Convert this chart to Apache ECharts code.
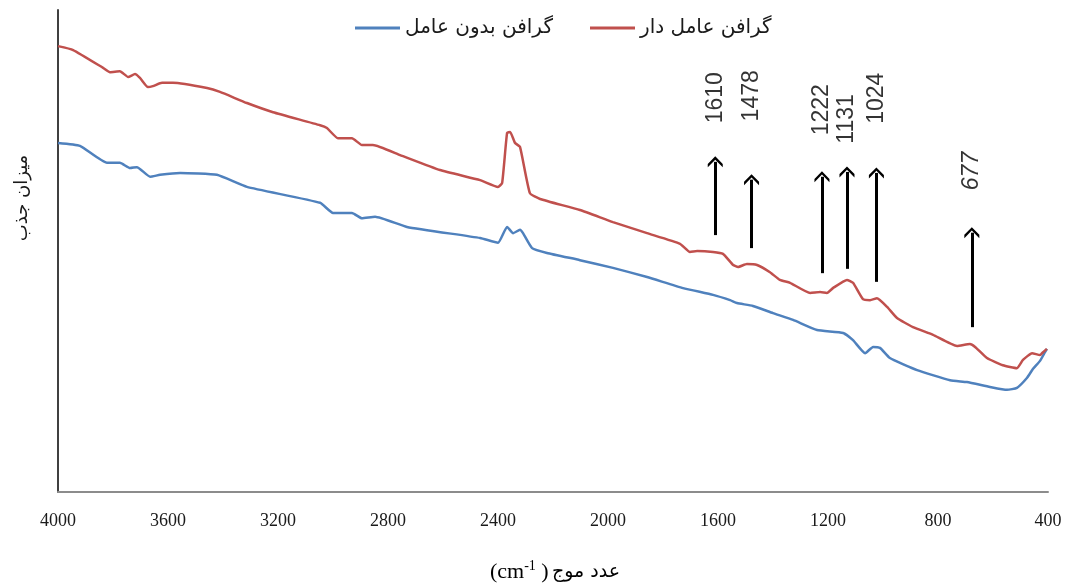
<!DOCTYPE html>
<html>
<head>
<meta charset="utf-8">
<script src="https://cdn.jsdelivr.net/npm/echarts@6/dist/echarts.min.js"></script>
<style>
  html, body { margin: 0; padding: 0; background: #fff; }
  #chart { width: 1067px; height: 587px; }
</style>
</head>
<body>
<div id="chart"></div>
<script>
// FTIR spectra: wavenumber (cm-1) vs. absorbance (arbitrary units)
const xTicks = [4000, 3600, 3200, 2800, 2400, 2000, 1600, 1200, 800, 400];

// functionalized graphene (red)
const funcWave = [4000,3945,3836,3811,3775,3745,3720,3702,3673,3655,3622,3582,3458,3411,3313,3218,3047,3022,2982,2931,2895,2855,2756,2611,2465,2400,2385,2367,2356,2338,2320,2284,2247,2102,1982,1858,1738,1702,1676,1618,1582,1545,1527,1495,1458,1411,1375,1338,1265,1229,1204,1182,1131,1109,1073,1047,1022,985,949,891,818,731,684,665,622,564,513,491,458,429,418,404];
const funcAbs = [92.5,91.7,88.0,87.1,87.3,86.1,86.7,85.9,84.0,84.2,84.9,84.9,83.8,83.0,80.7,78.8,76.1,75.5,73.4,73.4,72.0,72.0,69.9,66.8,64.7,63.3,64.1,74.5,74.7,72.4,71.6,62.0,60.8,58.5,56.0,53.7,51.5,49.8,50.0,49.8,49.4,47.1,46.7,47.3,47.1,45.6,44.0,43.4,41.3,41.5,41.3,42.3,44.0,43.4,40.0,39.8,40.2,38.4,36.1,34.2,32.6,30.3,30.7,30.1,27.8,26.3,25.7,27.4,28.8,28.4,29.0,29.7];

// pristine graphene (blue)
const pristWave = [4000,3920,3822,3775,3738,3713,3665,3629,3556,3422,3313,3047,3000,2931,2895,2847,2731,2465,2400,2367,2345,2320,2309,2276,2222,2102,1982,1858,1727,1618,1556,1531,1473,1400,1327,1240,1145,1109,1065,1036,1011,975,876,756,695,611,549,513,476,455,429,411,404];
const pristAbs = [72.4,71.8,68.3,68.3,67.2,67.4,65.4,65.8,66.2,65.8,63.3,60.0,57.9,57.9,56.8,57.1,55.0,52.7,51.7,55.0,53.7,54.4,53.7,50.6,49.6,48.1,46.5,44.6,42.3,40.9,39.8,39.2,38.6,37.1,35.7,33.6,33.0,31.5,28.8,30.1,29.9,27.8,25.3,23.2,22.8,21.8,21.2,21.6,23.7,25.5,27.2,29.0,29.7];

// marked peaks with arrow extents and label heights (absorbance units)
const peakWave = [1610, 1478, 1222, 1131, 1024, 677];
const arrowFrom = [53.3, 50.6, 45.4, 46.3, 43.6, 34.2];
const arrowTo = [68.5, 64.8, 65.4, 66.4, 66.2, 53.8];
const labelAt = [81.8, 82.2, 79.3, 77.4, 81.7, 66.6];
const italicPeaks = [677];

const nameFunc = 'گرافن عامل دار';
const namePrist = 'گرافن بدون عامل';
const yTitle = 'میزان جذب';
const xTitleArabic = 'عدد موج';

const zip = (xs, ys) => xs.map((x, i) => [x, ys[i]]);

const chart = echarts.init(document.getElementById('chart'), null, { renderer: 'canvas' });

// open chevron used as arrow head
const arrowHead = 'path://M0,0 L10,8 L10,11.5 L0,3.5 L-10,11.5 L-10,8 Z';

const legendText = { fontFamily: 'DejaVu Sans', fontSize: 20, color: '#1a1a1a' };
const LRM = '\u200E';

chart.setOption({
  animation: false,
  backgroundColor: '#ffffff',
  grid: { left: 58, right: 19, top: 10, bottom: 95, containLabel: false },
  legend: [
    { data: [namePrist], left: 350, top: 13, icon: 'rect', itemWidth: 45, itemHeight: 3, itemGap: 5, textStyle: legendText },
    { data: [nameFunc], left: 585, top: 13, icon: 'rect', itemWidth: 45, itemHeight: 3, itemGap: 5, textStyle: legendText }
  ],
  xAxis: {
    type: 'value', inverse: true, min: 400, max: 4000, interval: 400,
    axisLine: { show: true, onZero: false, lineStyle: { color: '#8c8c8c', width: 2 } },
    axisTick: { show: false },
    splitLine: { show: false },
    axisLabel: {
      margin: 20, color: '#1a1a1a', fontFamily: 'Liberation Serif', fontSize: 18,
      formatter: v => xTicks.includes(v) ? String(v) : ''
    }
  },
  yAxis: {
    type: 'value', min: 0, max: 100,
    axisLine: { show: true, lineStyle: { color: '#404040', width: 2 } },
    axisTick: { show: false },
    axisLabel: { show: false },
    splitLine: { show: false }
  },
  graphic: [
    {
      type: 'text', x: 555, y: 572,
      style: {
        text: '{p|' + LRM + '(cm}{s|-1}{p|' + LRM + ' )' + LRM + '} {a|' + xTitleArabic + '}',
        align: 'center', verticalAlign: 'middle',
        rich: {
          p: { fontFamily: 'Liberation Serif', fontSize: 22, color: '#1a1a1a' },
          s: { fontFamily: 'Liberation Serif', fontSize: 14, color: '#1a1a1a', padding: [0, 0, 12, 0] },
          a: { fontFamily: 'DejaVu Sans', fontSize: 19, color: '#1a1a1a' }
        }
      }
    },
    {
      type: 'text', x: 22, y: 198, rotation: Math.PI / 2,
      style: {
        text: yTitle, align: 'center', verticalAlign: 'middle',
        fontFamily: 'DejaVu Sans', fontSize: 18, fill: '#1a1a1a'
      }
    }
  ],
  series: [
    {
      name: namePrist, type: 'line', data: zip(pristWave, pristAbs),
      showSymbol: false, smooth: 0.15,
      lineStyle: { color: '#4f81bd', width: 2.5 }, itemStyle: { color: '#4f81bd' }
    },
    {
      name: nameFunc, type: 'line', data: zip(funcWave, funcAbs),
      showSymbol: false, smooth: 0.15,
      lineStyle: { color: '#c0504d', width: 2.5 }, itemStyle: { color: '#c0504d' }
    },
    {
      name: 'peaks', type: 'scatter', symbolSize: 0, silent: true,
      data: peakWave.map((w, i) => ({
        value: [w, labelAt[i]],
        label: { fontStyle: italicPeaks.includes(w) ? 'italic' : 'normal' }
      })),
      label: {
        show: true, position: 'inside', rotate: 90,
        formatter: p => String(p.value[0]),
        fontFamily: 'Liberation Sans', fontSize: 23, color: '#000'
      },
      markLine: {
        silent: true, animation: false,
        symbol: ['none', arrowHead], symbolSize: [15, 11],
        lineStyle: { color: '#000', width: 3, type: 'solid' },
        label: { show: false },
        data: peakWave.map((w, i) => [{ coord: [w, arrowFrom[i]] }, { coord: [w, arrowTo[i]] }])
      }
    }
  ]
});
</script>
</body>
</html>
